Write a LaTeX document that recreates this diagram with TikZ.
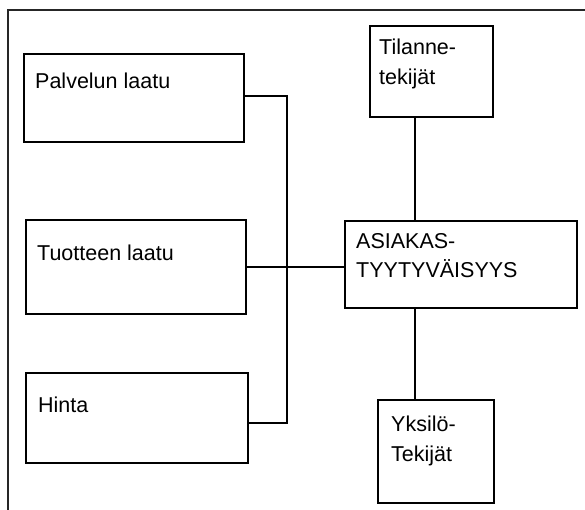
\documentclass[tikz,border=0pt]{standalone}
\usepackage{fontspec}
\setmainfont{Liberation Sans}
\usetikzlibrary{positioning}

\begin{document}
\begin{tikzpicture}[
  x=1pt, y=1pt,
  box/.style={rectangle, draw, line width=1.6pt, anchor=north west, inner sep=0pt},
  txt/.style={inner sep=0pt, align=left, font=\fontsize{21.5}{29.5}\selectfont},
  conn/.style={line width=1.6pt},
]
  \useasboundingbox (0,0) rectangle (585,-510);
  \clip (0,0) rectangle (585,-510);

  % outer frame, runs off the page at right and bottom
  \draw[conn, line width=2pt, black!85] (8,-530) |- (600,-10);

  \node[box, minimum width=220, minimum height=88] (palvelu) at (23,-53) {};
  \node[box, minimum width=220, minimum height=94] (tuote) at (25,-219) {};
  \node[box, minimum width=222, minimum height=90] (hinta) at (25,-372) {};

  \node[box, minimum width=123, minimum height=91] (tilanne) at (369,-25) {};
  \node[box, minimum width=232, minimum height=87] (asiakas) at (344,-220) {};
  \node[box, minimum width=116, minimum height=103] (yksilo) at (377,-399) {};

  \node[txt, below right=20 and 12 of palvelu.north west] (palvelu-t) {Palvelun laatu};
  \node[txt, below right=26 and 12 of tuote.north west] (tuote-t) {Tuotteen laatu};
  \node[txt, below right=25 and 13 of hinta.north west] (hinta-t) {Hinta};
  \node[txt, below right=14 and 10 of tilanne.north west] (tilanne-t) {Tilanne-\\tekijät};
  \node[txt, below right=13 and 12 of asiakas.north west] (asiakas-t) {ASIAKAS-\\TYYTYVÄISYYS};
  \node[txt, below right=17 and 14 of yksilo.north west] (yksilo-t) {Yksilö-\\Tekijät};

  \coordinate (busT) at (287,-96);
  \coordinate (busB) at (287,-423);
  \coordinate (spine) at (415,0);

  \draw[conn] (palvelu.east |- busT) -- (busT) -- (busB) -- (hinta.east |- busB);
  \draw[conn] (tuote.east) -- (tuote.east -| asiakas.west);
  \draw[conn] (tilanne.south -| spine) -- (asiakas.north -| spine);
  \draw[conn] (asiakas.south -| spine) -- (yksilo.north -| spine);
\end{tikzpicture}
\end{document}
